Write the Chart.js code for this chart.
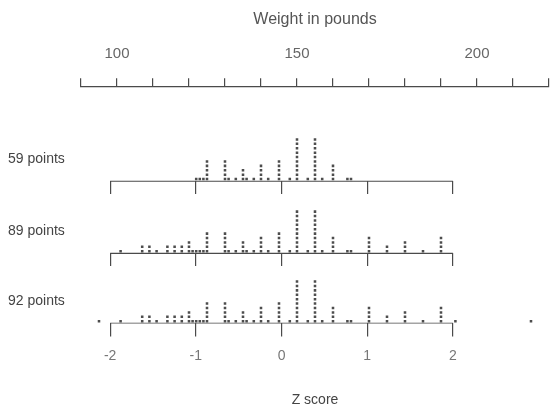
<!DOCTYPE html>
<html>
<head>
<meta charset="utf-8">
<script src="https://cdn.jsdelivr.net/npm/chart.js@4.4.1/dist/chart.umd.min.js"></script>
<style>
  html, body { margin: 0; padding: 0; background: #fff; }
  #wrap { width: 553px; height: 415px; }
</style>
</head>
<body>
<div id="wrap"><canvas id="chart"></canvas></div>
<script>
// weights (lb) that carry at least one dot in some panel
const weights  = [95, 101, 107, 109, 111, 114, 116, 118, 120, 121,
                  122, 123, 124, 125, 130, 131, 133, 135, 136, 138,
                  140, 142, 145, 148, 150, 153, 155, 157, 160, 164,
                  165, 170, 175, 180, 185, 190, 194, 215];
// dots stacked at each weight, one array per panel
const counts59 = [0, 0, 0, 0, 0, 0, 0, 0, 0, 0,
                  1, 1, 1, 5, 5, 1, 1, 3, 1, 1,
                  4, 1, 5, 1, 10, 1, 10, 1, 4, 1,
                  1, 0, 0, 0, 0, 0, 0, 0];
const counts89 = [0, 1, 2, 2, 1, 2, 2, 2, 3, 1,
                  1, 1, 1, 5, 5, 1, 1, 3, 1, 1,
                  4, 1, 5, 1, 10, 1, 10, 1, 4, 1,
                  1, 4, 2, 3, 1, 4, 0, 0];
const counts92 = [1, 1, 2, 2, 1, 2, 2, 2, 3, 1,
                  1, 1, 1, 5, 5, 1, 1, 3, 1, 1,
                  4, 1, 5, 1, 10, 1, 10, 1, 4, 1,
                  1, 4, 2, 3, 1, 4, 1, 1];

const weightTicks = [90, 100, 110, 120, 130, 140, 150, 160, 170, 180, 190, 200, 210, 220];
const weightLabels = [100, 150, 200];
const zTicks = [-2, -1, 0, 1, 2];

// mean and SD used for the Z score scale
const MEAN = 145.7;
const SD = 23.8;

const W_MIN = 90, W_MAX = 220;
const zOf = w => (w - MEAN) / SD;

// vertical layout in "dot slots"
const PANEL_BASE = [32.3, 15.9, 0];
const LABEL_LIFT = 5;
const Y_MAX = 53.9;

const panels = [counts59, counts89, counts92];
const total = arr => arr.reduce((a, b) => a + b, 0);

function stackDots(counts, base) {
    const pts = [];
    weights.forEach((w, i) => {
        for (let k = 0; k < counts[i]; k++) pts.push({ x: w, y: base + k + 0.5 });
    });
    return pts;
}

const ink = '#4a4a4a';
const font = 'Liberation Sans, Arial, sans-serif';

const datasets = [];
panels.forEach((counts, p) => {
    datasets.push({
        type: 'scatter',
        data: stackDots(counts, PANEL_BASE[p]),
        xAxisID: 'w',
        yAxisID: 'y',
        pointStyle: 'rect',
        pointRadius: 1.8,
        backgroundColor: '#4d4d4d',
        borderWidth: 0
    });
    // baseline from -2 to +2
    datasets.push({
        type: 'line',
        data: [{ x: zTicks[0], y: PANEL_BASE[p] }, { x: zTicks[zTicks.length - 1], y: PANEL_BASE[p] }],
        xAxisID: 'z',
        yAxisID: 'y',
        borderColor: ink,
        borderWidth: 1.2,
        pointRadius: 0
    });
});

const zAxisBase = {
    type: 'linear',
    axis: 'x',
    min: zOf(W_MIN),
    max: zOf(W_MAX),
    afterBuildTicks: axis => { axis.ticks = zTicks.map(v => ({ value: v })); },
    grid: { drawOnChartArea: false, tickLength: 13, color: ink, lineWidth: 1.2 },
    border: { display: false }
};

new Chart(document.getElementById('chart'), {
    type: 'scatter',
    data: { datasets: datasets },
    options: {
        responsive: true,
        maintainAspectRatio: false,
        animation: false,
        layout: { padding: { top: 10, left: 8, right: 3, bottom: 6.5 } },
        plugins: {
            legend: { display: false },
            tooltip: { enabled: false }
        },
        scales: {
            w: {
                type: 'linear',
                axis: 'x',
                position: 'top',
                min: W_MIN,
                max: W_MAX,
                afterBuildTicks: axis => { axis.ticks = weightTicks.map(v => ({ value: v })); },
                afterFit: axis => { axis.paddingRight = 0; },
                ticks: {
                    autoSkip: false,
                    maxRotation: 0,
                    padding: 15,
                    color: '#666',
                    font: { family: font, size: 15 },
                    callback: v => weightLabels.includes(v) ? String(v) : ''
                },
                grid: { drawOnChartArea: false, tickLength: 8, color: ink, lineWidth: 1.2 },
                border: { color: ink, width: 1.2 },
                title: {
                    display: true,
                    text: 'Weight in pounds',
                    color: '#555',
                    font: { family: font, size: 16 },
                    padding: { top: 0, bottom: 1 }
                }
            },
            z: {
                ...zAxisBase,
                position: 'bottom',
                ticks: {
                    autoSkip: false,
                    maxRotation: 0,
                    padding: 11.5,
                    color: '#777',
                    font: { family: font, size: 14 }
                },
                title: {
                    display: true,
                    text: 'Z score',
                    color: '#444',
                    font: { family: font, size: 14 },
                    padding: { top: 15.5, bottom: 0 }
                }
            },
            z1: { ...zAxisBase, position: { y: PANEL_BASE[0] }, ticks: { display: false } },
            z2: { ...zAxisBase, position: { y: PANEL_BASE[1] }, ticks: { display: false } },
            y: {
                type: 'linear',
                position: 'left',
                min: 0,
                max: Y_MAX,
                afterBuildTicks: axis => { axis.ticks = PANEL_BASE.map(b => ({ value: b + LABEL_LIFT })); },
                afterFit: axis => { axis.width = 73; },
                ticks: {
                    autoSkip: false,
                    crossAlign: 'far',
                    color: '#444',
                    font: { family: font, size: 14 },
                    callback: (v, i) => total(panels[i]) + ' points'
                },
                grid: { display: false },
                border: { display: false }
            }
        }
    }
});
</script>
</body>
</html>
